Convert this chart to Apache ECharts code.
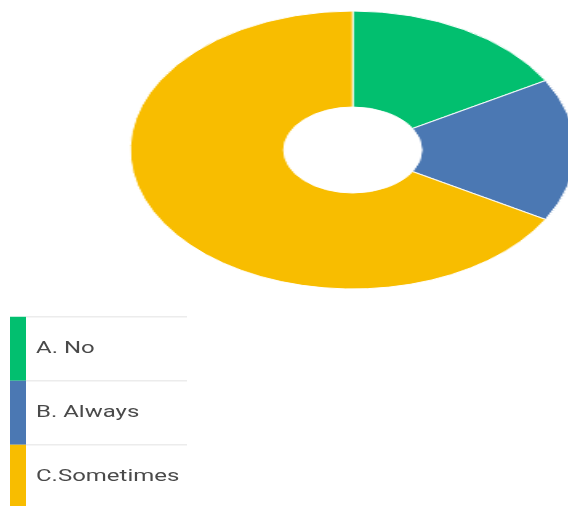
<!DOCTYPE html>
<html><head><meta charset="utf-8">
<script src="https://cdn.jsdelivr.net/npm/echarts@6/dist/echarts.min.js"></script>
<style>
html,body{margin:0;padding:0;width:568px;height:506px;overflow:hidden;background:#fff;position:relative}
#pie{position:absolute;left:0;top:0;width:360px;height:300px;transform-origin:0 0;transform:scaleX(1.602)}
#legend{position:absolute;left:0;top:300px;width:568px;height:206px}
</style></head><body>
<div id="pie"></div><div id="legend"></div>
<script>
const categories = ['A. No', 'B. Always', 'C.Sometimes'];
const values = [1, 1, 4];
const colors = ['#02BF6F', '#4B78B3', '#F8BD00'];

const pie = echarts.init(document.getElementById('pie'), null, {renderer: 'canvas'});
pie.setOption({
  animation: false,
  color: colors,
  series: [{
    type: 'pie',
    center: [220.2, 150],
    radius: [43, 139],
    startAngle: 90,
    clockwise: true,
    label: {show: false},
    labelLine: {show: false},
    itemStyle: {borderColor: '#fff', borderWidth: 1},
    emphasis: {disabled: true},
    data: categories.map((c, i) => ({name: c, value: values[i]}))
  }]
});

const leg = echarts.init(document.getElementById('legend'), null, {renderer: 'canvas'});
const elements = [];
categories.forEach((c, i) => {
  const top = 16.7 + i * 64;
  elements.push({type: 'rect', shape: {x: 10, y: top, width: 16, height: 64}, style: {fill: colors[i]}});
  elements.push({type: 'line', shape: {x1: 26, y1: top, x2: 187, y2: top}, style: {stroke: '#ececec', lineWidth: 1.5}});
  elements.push({type: 'text', x: 36, y: top + 32, scaleX: 1.41,
    style: {text: c, fill: '#4a4a4a', font: '17px Roboto', textVerticalAlign: 'middle', textAlign: 'left'}});
});
leg.setOption({animation: false, graphic: {elements: elements}});
</script>
</body></html>
